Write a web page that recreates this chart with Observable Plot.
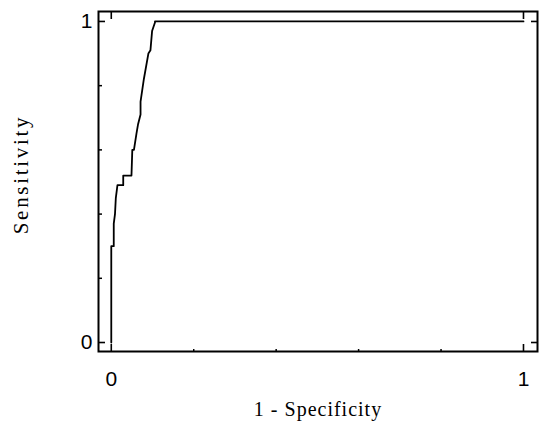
<!DOCTYPE html>
<html><head><meta charset="utf-8">
<script src="https://cdn.jsdelivr.net/npm/d3@7"></script>
<script src="https://cdn.jsdelivr.net/npm/@observablehq/plot@0.6"></script>
<style>body{margin:0;background:#fff}</style>
</head><body><div id="chart"></div>
<script>
// ROC curve points (1 - specificity, sensitivity)
const fpr = [0, 0, 0.006, 0.006, 0.009, 0.011, 0.014, 0.015, 0.029, 0.029, 0.049, 0.051, 0.055, 0.061, 0.065, 0.071, 0.071, 0.079, 0.090, 0.095, 0.099, 0.106, 0.106, 1];
const tpr = [0, 0.30, 0.30, 0.37, 0.40, 0.45, 0.48, 0.49, 0.49, 0.52, 0.52, 0.60, 0.60, 0.65, 0.68, 0.71, 0.75, 0.82, 0.90, 0.91, 0.97, 0.997, 1, 1];
const majorTicks = [0, 1];
const minorTicks = [0.2, 0.4, 0.6, 0.8];
const xTitle = "1 - Specificity";
const yTitle = "Sensitivity";

const data = fpr.map((v, i) => ({fpr: v, tpr: tpr[i]}));
const serif = "'Liberation Serif', 'Times New Roman', serif";
const sans = "'Liberation Sans', Arial, sans-serif";
const fmt = d => String(d);

const chart = Plot.plot({
  width: 550, height: 437,
  marginLeft: 98, marginRight: 13, marginTop: 11, marginBottom: 86,
  style: {background: "white", color: "black", fontFamily: sans, fontSize: "21px"},
  x: {domain: [-0.031, 1.034], label: null},
  y: {domain: [-0.028, 1.031], label: null},
  marks: [
    Plot.line(data, {x: "fpr", y: "tpr", stroke: "black", strokeWidth: 1.8}),
    // inward major ticks on all sides
    Plot.axisX({ticks: majorTicks, anchor: "bottom", tickSize: -7, text: null, label: null, strokeWidth: 1.6}),
    Plot.axisX({ticks: majorTicks, anchor: "top", tickSize: -7, text: null, label: null, strokeWidth: 1.6}),
    Plot.axisY({ticks: majorTicks, anchor: "left", tickSize: -7, text: null, label: null, strokeWidth: 1.6}),
    Plot.axisY({ticks: majorTicks, anchor: "right", tickSize: -7, text: null, label: null, strokeWidth: 1.6}),
    // minor ticks
    Plot.axisX({ticks: minorTicks, anchor: "bottom", tickSize: -2, text: null, label: null, strokeWidth: 1.5}),
    Plot.axisY({ticks: minorTicks, anchor: "left", tickSize: -4, text: null, label: null, strokeWidth: 1.5}),
    // tick labels
    Plot.axisX({ticks: majorTicks, anchor: "bottom", tickSize: 0, tickPadding: 20, tickFormat: fmt, label: null, fontSize: 21}),
    Plot.axisY({ticks: majorTicks, anchor: "left", tickSize: 0, tickPadding: 6, tickFormat: fmt, label: null, fontSize: 21}),
    // titles
    Plot.text([xTitle], {frameAnchor: "bottom", dy: 64, textAnchor: "middle", text: d => d, fontFamily: serif, fontSize: 20, fill: "black"}),
    Plot.text([yTitle], {frameAnchor: "left", rotate: -90, dx: -77, dy: -7, textAnchor: "middle", text: d => d, fontFamily: serif, fontSize: 21, fill: "black"}),
    Plot.frame({stroke: "black", strokeWidth: 2})
  ]
});
// letter spacing of the titles (as in the reference)
d3.select(chart).selectAll("text").each(function() {
  const t = this.textContent;
  if (t === yTitle) this.style.letterSpacing = "2.7px";
  if (t === xTitle) this.style.letterSpacing = "1px";
});
document.getElementById("chart").appendChild(chart);
</script>
</body></html>
